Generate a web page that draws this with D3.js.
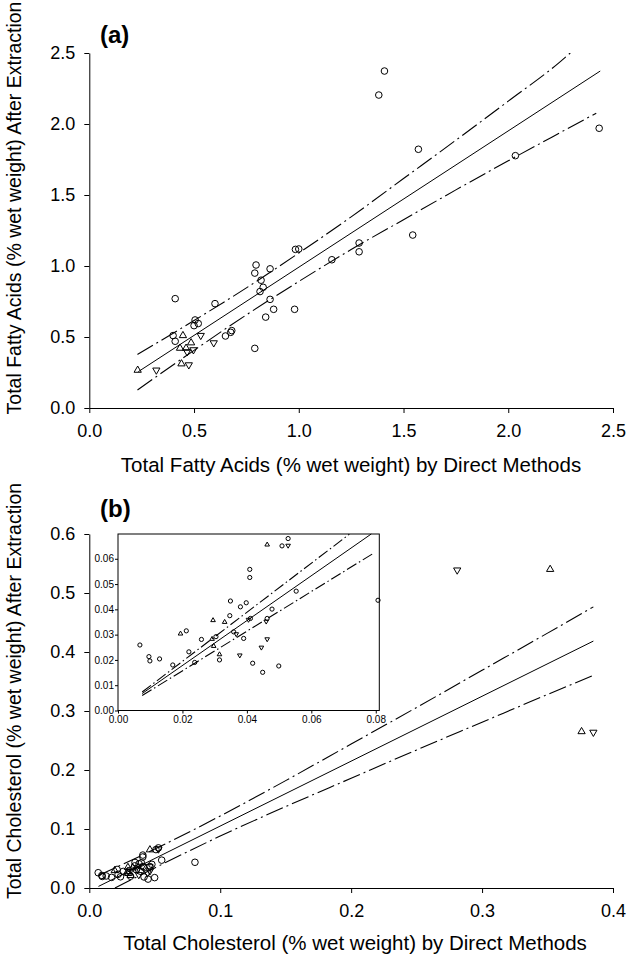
<!DOCTYPE html>
<html><head><meta charset="utf-8">
<script src="https://cdn.jsdelivr.net/npm/d3@7"></script>
<style>
body{margin:0;background:#fff}
svg{display:block}
text{font-family:"Liberation Sans",Arial,Helvetica,sans-serif;fill:#000}
</style>
</head><body>
<svg id="c" width="630" height="958"></svg>
<script>
// ---------- DATA ----------
// Panel (a): Total fatty acids
const faCircles = [[0.41,0.77],[0.40,0.51],[0.41,0.47],[0.505,0.62],[0.50,0.58],[0.52,0.595],[0.60,0.735],[0.65,0.507],[0.675,0.533],[0.68,0.545],[0.79,0.42],[0.796,1.007],[0.79,0.95],[0.82,0.90],[0.83,0.85],[0.815,0.82],[0.863,0.98],[0.863,0.765],[0.842,0.64],[0.88,0.695],[0.98,0.695],[0.984,1.117],[1.0,1.12],[1.158,1.044],[1.288,1.162],[1.288,1.10],[1.544,1.218],[1.382,2.204],[1.409,2.373],[1.571,1.822],[2.034,1.777],[2.434,1.97]];
const faUp = [[0.231,0.27],[0.447,0.514],[0.486,0.463],[0.433,0.425],[0.462,0.425],[0.44,0.315]];
const faDown = [[0.467,0.392],[0.497,0.406],[0.475,0.30],[0.532,0.507],[0.594,0.455],[0.32,0.263]];
const faFit = [[0.234,0.256],[2.439,2.373]];
const faUpper = [[0.23,0.377],[0.5,0.616],[0.75,0.846],[1.0,1.091],[1.25,1.346],[1.5,1.616],[1.75,1.886],[2.0,2.161],[2.25,2.441],[2.296,2.50]];
const faLower = [[0.23,0.127],[0.5,0.406],[0.75,0.656],[1.0,0.891],[1.25,1.116],[1.5,1.326],[1.75,1.536],[2.0,1.741],[2.25,1.941],[2.42,2.076]];
const faTicks = [0,0.5,1.0,1.5,2.0,2.5];

// Panel (b): Total cholesterol
const chCircles = [[0.0068,0.0259],[0.0096,0.0213],[0.0099,0.0196],[0.0129,0.0204],[0.017,0.018],[0.0212,0.0315],[0.022,0.0232],[0.0238,0.019],[0.0259,0.0281],[0.0304,0.0292],[0.0347,0.0375],[0.0349,0.0433],[0.038,0.041],[0.0398,0.0426],[0.0409,0.0558],[0.0409,0.0526],[0.0411,0.0364],[0.0359,0.0311],[0.039,0.0285],[0.0315,0.020],[0.0418,0.0187],[0.0449,0.0151],[0.0499,0.0176],[0.0463,0.0364],[0.0478,0.0401],[0.0509,0.0651],[0.0528,0.068],[0.0553,0.0472],[0.0807,0.0436]];
const chUp = [[0.0194,0.0305],[0.0292,0.0284],[0.0297,0.0256],[0.0295,0.0358],[0.0331,0.0351],[0.0315,0.0223],[0.0463,0.0657],[0.352,0.541],[0.376,0.266]];
const chDown = [[0.0405,0.0358],[0.0367,0.0301],[0.0378,0.0217],[0.0445,0.0248],[0.0463,0.0281],[0.046,0.0351],[0.0528,0.0651],[0.281,0.538],[0.385,0.263]];
const chFit = [[0.007,0.0027],[0.385,0.4185]];
const chUpper = [[0.007,0.021],[0.05,0.066],[0.1,0.122],[0.15,0.182],[0.2,0.244],[0.25,0.306],[0.3,0.369],[0.35,0.432],[0.385,0.4765]];
const chLower = [[0.0196,0.0],[0.05,0.034],[0.1,0.088],[0.15,0.138],[0.2,0.186],[0.25,0.234],[0.3,0.281],[0.35,0.328],[0.385,0.3605]];
const chXTicks = [0,0.1,0.2,0.3,0.4];
const chYTicks = [0,0.1,0.2,0.3,0.4,0.5,0.6];

// Inset of (b)
const inFit = [[0.0075,0.0067],[0.0786,0.0698]];
const inUpper = [[0.0075,0.0073],[0.0718,0.0697]];
const inLower = [[0.0075,0.0059],[0.0796,0.0624]];
const inXTicks = [0,0.02,0.04,0.06,0.08];
const inYTicks = [0,0.01,0.02,0.03,0.04,0.05,0.06];

// ---------- DRAW ----------
const svg = d3.select('#c');
const FONT_TICK = 18, FONT_TITLE = 20.5, FONT_YTITLE = 19.5;
const ciDash = "18,4,2,4";

function upTri(s){return `M${-s},${s*0.72}L0,${-s}L${s},${s*0.72}Z`;}
function downTri(s){return `M${-s},${-s*0.72}L0,${s}L${s},${-s*0.72}Z`;}

function marks(g, x, y, circles, ups, downs, r, filter){
  const f = filter || (()=>true);
  g.selectAll(null).data(circles.filter(f)).enter().append('circle')
    .attr('cx',d=>x(d[0])).attr('cy',d=>y(d[1])).attr('r',r)
    .attr('fill','none').attr('stroke','#000').attr('stroke-width',1);
  g.selectAll(null).data(ups.filter(f)).enter().append('path')
    .attr('d',upTri(r*1.1)).attr('transform',d=>`translate(${x(d[0])},${y(d[1])})`)
    .attr('fill','none').attr('stroke','#000').attr('stroke-width',1);
  g.selectAll(null).data(downs.filter(f)).enter().append('path')
    .attr('d',downTri(r*1.1)).attr('transform',d=>`translate(${x(d[0])},${y(d[1])})`)
    .attr('fill','none').attr('stroke','#000').attr('stroke-width',1);
}

function lines(g, x, y, fit, up, lo, dash){
  const ln = d3.line().x(d=>x(d[0])).y(d=>y(d[1])).curve(d3.curveMonotoneX);
  g.append('path').attr('d',ln(fit)).attr('fill','none').attr('stroke','#000').attr('stroke-width',1);
  [up,lo].forEach(a=>g.append('path').attr('d',ln(a)).attr('fill','none')
    .attr('stroke','#000').attr('stroke-width',1.1).attr('stroke-dasharray',dash));
}

function mainAxes(x, y, xt, yt, fmt){
  const gx = svg.append('g').attr('transform',`translate(0,${y.range()[0]})`)
    .call(d3.axisBottom(x).tickValues(xt).tickFormat(fmt).tickSize(5).tickSizeOuter(0).tickPadding(11));
  const gy = svg.append('g').attr('transform',`translate(${x.range()[0]},0)`)
    .call(d3.axisLeft(y).tickValues(yt).tickFormat(fmt).tickSize(5).tickSizeOuter(0).tickPadding(9));
  [gx,gy].forEach(g=>{
    g.selectAll('text').attr('font-size',FONT_TICK).attr('font-family','"Liberation Sans",Arial,sans-serif');
    g.selectAll('path,line').attr('stroke','#000');
  });
}

// Panel (a)
const xA = d3.scaleLinear().domain([0,2.5]).range([89.3,613]);
const yA = d3.scaleLinear().domain([0,2.5]).range([408,53]);
mainAxes(xA,yA,faTicks,faTicks,d3.format('.1f'));
const gA = svg.append('g');
lines(gA,xA,yA,faFit,faUpper,faLower,ciDash);
marks(gA,xA,yA,faCircles,faUp,faDown,3.3);

svg.append('text').attr('x',100).attr('y',43).attr('font-size',24).attr('font-weight','bold').text('(a)');
svg.append('text').attr('x',351).attr('y',472).attr('text-anchor','middle').attr('font-size',FONT_TITLE)
  .text('Total Fatty Acids (% wet weight) by Direct Methods');
svg.append('text').attr('transform','translate(21,208) rotate(-90)').attr('text-anchor','middle').attr('font-size',FONT_YTITLE)
  .text('Total Fatty Acids (% wet weight) After Extraction');

// Panel (b)
const xB = d3.scaleLinear().domain([0,0.4]).range([89.3,613]);
const yB = d3.scaleLinear().domain([0,0.6]).range([888,534]);
mainAxes(xB,yB,chXTicks,chYTicks,d3.format('.1f'));
const gB = svg.append('g');
lines(gB,xB,yB,chFit,chUpper,chLower,ciDash);
marks(gB,xB,yB,chCircles,chUp,chDown,3.3);

svg.append('text').attr('x',100).attr('y',517).attr('font-size',24).attr('font-weight','bold').text('(b)');
svg.append('text').attr('x',355).attr('y',950).attr('text-anchor','middle').attr('font-size',FONT_TITLE)
  .text('Total Cholesterol (% wet weight) by Direct Methods');
svg.append('text').attr('transform','translate(21,691) rotate(-90)').attr('text-anchor','middle').attr('font-size',FONT_YTITLE)
  .text('Total Cholesterol (% wet weight) After Extraction');

// Inset
const xI = d3.scaleLinear().domain([0,0.0811]).range([118,379.3]);
const yI = d3.scaleLinear().domain([0,0.0698]).range([710.5,534]);
svg.append('rect').attr('x',xI.range()[0]).attr('y',yI.range()[1])
  .attr('width',xI.range()[1]-xI.range()[0]).attr('height',yI.range()[0]-yI.range()[1])
  .attr('fill','#fff').attr('stroke','#000').attr('stroke-width',1);
const fmt2 = d3.format('.2f');
const gix = svg.append('g').attr('transform',`translate(0,${yI.range()[0]})`)
  .call(d3.axisBottom(xI).tickValues(inXTicks).tickFormat(fmt2).tickSize(3).tickSizeOuter(0).tickPadding(2));
const giy = svg.append('g').attr('transform',`translate(${xI.range()[0]},0)`)
  .call(d3.axisLeft(yI).tickValues(inYTicks).tickFormat(fmt2).tickSize(3).tickSizeOuter(0).tickPadding(1));
[gix,giy].forEach(g=>{
  g.select('.domain').remove();
  g.selectAll('text').attr('font-size',10).attr('font-family','"Liberation Sans",Arial,sans-serif');
  g.selectAll('line').attr('stroke','#000');
});
const gI = svg.append('g');
lines(gI,xI,yI,inFit,inUpper,inLower,"11,3,1.5,3");
marks(gI,xI,yI,chCircles,chUp,chDown,2.1,d=>d[0]<=0.0811 && d[1]<=0.0698);
</script>
</body></html>
